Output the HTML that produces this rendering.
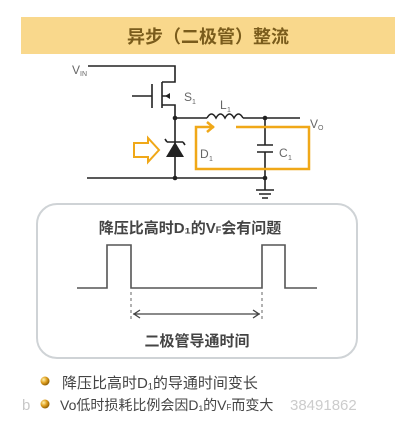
<!DOCTYPE html>
<html><head><meta charset="utf-8"><style>
body{margin:0;background:#fff;width:402px;height:438px;overflow:hidden}
svg{display:block}
text{font-family:"Liberation Sans","Noto Sans CJK SC",sans-serif}
</style></head><body>
<svg width="402" height="438" viewBox="0 0 402 438">
<defs>
<radialGradient id="g" cx="0.35" cy="0.35" r="0.7"><stop offset="0" stop-color="#fff3b0"/><stop offset="0.5" stop-color="#e0a020"/><stop offset="1" stop-color="#8a5a00"/></radialGradient>
</defs>
<rect x="21" y="17" width="374" height="37" fill="#f9d88c"/>
<text x="208" y="43" font-size="18" font-weight="bold" fill="#7a5c1c" text-anchor="middle">异步（二极管）整流</text>
<g stroke="#222" stroke-width="1.6" fill="none">
<path d="M88 66H175V82H162M162 82V108M162 105H175V178M132 96H152M152 84V108M162 96H170"/>
<path d="M175 118H207M243 118H300M265 118V145M257 145H273M257 152H273M265 152V190M87 178H265M256 190H274M259 194H271M262 198H268"/>
<path d="M207 118q4.5 -8 9 0q4.5 -8 9 0q4.5 -8 9 0q4.5 -8 9 0"/>
<path d="M167 142H183M167 142l-2 -3M183 142l2 3"/>
</g>
<path d="M170 93l-5 3 5 3z" fill="#222"/>
<path d="M175 142l-9 15h18z" fill="#222"/>
<circle cx="175" cy="118" r="2.3" fill="#222"/><circle cx="175" cy="178" r="2.3" fill="#222"/>
<circle cx="265" cy="118" r="2.3" fill="#222"/><circle cx="265" cy="178" r="2.3" fill="#222"/>
<text x="72" y="74" font-size="12" fill="#666">V</text><text x="80" y="76" font-size="7" fill="#666">IN</text>
<text x="184" y="101" font-size="12" fill="#666">S</text><text x="192" y="104" font-size="7" fill="#666">1</text>
<text x="220" y="109" font-size="12" fill="#666">L</text><text x="227" y="112" font-size="7" fill="#666">1</text>
<text x="310" y="128" font-size="12" fill="#666">V</text><text x="318" y="130" font-size="7" fill="#666">O</text>
<text x="200" y="158" font-size="12" fill="#666">D</text><text x="209" y="161" font-size="7" fill="#666">1</text>
<text x="279" y="157" font-size="12" fill="#666">C</text><text x="288" y="160" font-size="7" fill="#666">1</text>
<g stroke="#f0a818" stroke-width="2.5" fill="none">
<path d="M214 127H196V169H309V127H236"/>
<path d="M207 122l6 5-6 5"/>
<path d="M134 143H148V138L159 150L148 162V157H134Z" stroke-width="2"/>
</g>
<rect x="37" y="204" width="320" height="154" rx="20" fill="none" stroke="#cfd3d6" stroke-width="2"/>
<text x="190" y="233" font-size="15" font-weight="bold" fill="#444" text-anchor="middle">降压比高时D₁的V<tspan font-size="9">F</tspan>会有问题</text>
<path d="M77 288H107V245H131V288H262V245H285V288H317" stroke="#555" stroke-width="1.6" fill="none"/>
<path d="M131 292V322M262 292V322" stroke="#666" stroke-width="1" stroke-dasharray="3,3"/>
<path d="M133 314H260M140 310l-6 4 6 4M253 310l6 4-6 4" stroke="#444" stroke-width="1.3" fill="none"/>
<text x="197" y="346" font-size="15" font-weight="bold" fill="#444" text-anchor="middle">二极管导通时间</text>
<circle cx="45" cy="381" r="4.5" fill="url(#g)"/>
<circle cx="45" cy="404" r="4.5" fill="url(#g)"/>
<text x="62" y="388" font-size="15" fill="#444">降压比高时D₁的导通时间变长</text>
<text x="22" y="410" font-size="15" fill="#c8c8c8" font-family="Liberation Serif,serif">b</text>
<text x="60" y="410" font-size="14" fill="#444">Vo低时损耗比例会因D₁的V<tspan font-size="8">F</tspan>而变大</text>
<text x="290" y="410" font-size="15" fill="#cccccc" font-family="Liberation Serif,serif">38491862</text>
</svg>
</body></html>
